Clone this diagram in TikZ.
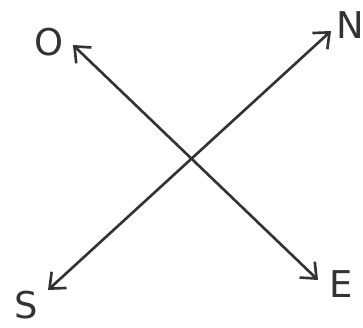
\documentclass[tikz,border=0pt]{standalone}
\usepackage{fontspec}
\setmainfont{DejaVu Sans}
\usetikzlibrary{arrows.meta}
\definecolor{inkcolor}{HTML}{333333}

\begin{document}
\begin{tikzpicture}[x=0.02cm, y=-0.02cm, thick]

\tikzset{
  compassline/.style={{Straight Barb[length=2.6mm, width=4.4mm]}-{Straight Barb[length=2.6mm, width=4.4mm]}, inkcolor, line width=1.5pt},
  compasslabel/.style={inkcolor, font=\fontsize{21}{24}\selectfont, inner sep=0pt},
}

\useasboundingbox (0,0) rectangle (363,328);

% ---- arrow ends ----
\coordinate (otip) at (73,45);
\coordinate (ntip) at (331,31);
\coordinate (stip) at (48,290);
\coordinate (etip) at (318,280);

% ---- letters ----
\node[compasslabel] (olabel) at (49,42) {O};
\node[compasslabel] (nlabel) at (350,25) {N};
\node[compasslabel] (slabel) at (26,305) {S};
\node[compasslabel] (elabel) at (341,284) {E};

% ---- the two crossing arrows ----
\draw[compassline] (otip) -- (etip);
\draw[compassline] (stip) -- (ntip);

\end{tikzpicture}
\end{document}
